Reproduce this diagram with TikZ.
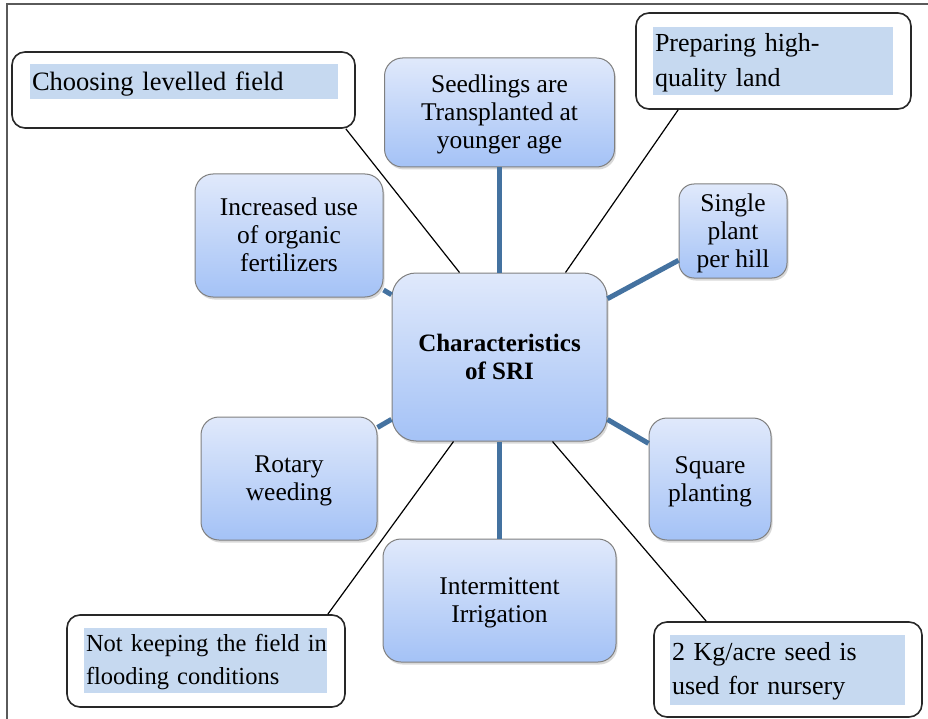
\documentclass[tikz,border=0pt]{standalone}
\usepackage{fontspec}
\setmainfont{Liberation Serif}
\usetikzlibrary{shadows,calc}
\definecolor{topc}{RGB}{224,233,251}
\definecolor{botc}{RGB}{164,194,246}
\definecolor{linkc}{RGB}{68,114,160}
\definecolor{hlc}{RGB}{198,217,240}
\definecolor{edgec}{RGB}{128,128,128}
\definecolor{calloutc}{RGB}{40,40,40}
\definecolor{framec}{RGB}{90,90,90}
\newcommand{\firstfix}[1]{\rule{0pt}{#1}}
\newcommand{\lastfix}{\rule[-5.6pt]{0pt}{5.6pt}}
\begin{document}
\begin{tikzpicture}[x=1pt,y=-1pt,
  bluebox/.style={rectangle, rounded corners=18pt, draw=edgec, line width=1pt,
    top color=topc, bottom color=botc,
    drop shadow={opacity=0.3, shadow xshift=1.5pt, shadow yshift=-2.5pt},
    align=center, inner sep=0pt, font=\fontsize{25.5}{28}\selectfont},
  callout/.style={rectangle, rounded corners=13pt, draw=calloutc, line width=1.6pt, fill=white, inner sep=0pt},
  hl/.style={rectangle, fill=hlc, inner xsep=2pt, inner ysep=0pt, align=left, font=\fontsize{26}{34}\selectfont},
  link/.style={line width=5pt, draw=linkc},
  pointer/.style={line width=1.2pt, draw=black}
]
\useasboundingbox (0,0) rectangle (928,719);
\fill[white] (0,0) rectangle (928,719);
\draw[line width=1.2pt, draw=framec] (7,719) -- (7,4) -- (928,4);

% callouts
\node[callout, minimum width=343pt, minimum height=76pt] (choose) at (183.5,90) {};
\node[hl, text width=304pt, minimum height=35pt, font=\fontsize{26.5}{34}\selectfont] (chooset) at (184,81.5) {\firstfix{24.3pt}Choosing levelled field};
\node[callout, minimum width=275pt, minimum height=96pt] (prep) at (773.5,61) {};
\node[hl, text width=236pt, minimum height=68pt, font=\fontsize{26}{35}\selectfont] (prept) at (773,61) {\mbox{\firstfix{21.5pt}Preparing high-}\\quality land};
\node[callout, minimum width=278pt, minimum height=92pt] (nk) at (206,661) {};
\node[hl, text width=239pt, minimum height=65pt, font=\fontsize{24.5}{33}\selectfont] (nkt) at (205.5,660.5) {\mbox{\firstfix{21pt}Not keeping the field in}\\flooding conditions};
\node[callout, minimum width=268pt, minimum height=95pt] (kg) at (788,669.5) {};
\node[hl, text width=231pt, minimum height=70pt] (kgt) at (787.5,670) {\mbox{\firstfix{20.5pt}2 Kg/acre seed is}\\used for nursery};

% blue boxes
\node[bluebox, minimum width=215pt, minimum height=168pt, rounded corners=24pt,
  font=\bfseries\fontsize{25}{28}\selectfont] (center) at (499.5,357) {Characteristics\\of SRI};
\node[bluebox, minimum width=230pt, minimum height=109pt] (seed) at (499.5,112.5) {\firstfix{22.5pt}Seedlings are\\Transplanted at\\younger age\lastfix};
\node[bluebox, minimum width=188pt, minimum height=123pt] (organic) at (289,235.5) {\firstfix{22.5pt}Increased use\\of organic\\fertilizers\lastfix};
\node[bluebox, minimum width=108pt, minimum height=94pt, rounded corners=15pt] (single) at (733,231) {\firstfix{22.5pt}Single\\plant\\per hill\lastfix};
\node[bluebox, minimum width=176pt, minimum height=123pt] (rotary) at (289,478.5) {\firstfix{22.5pt}Rotary\\weeding\lastfix};
\node[bluebox, minimum width=122pt, minimum height=122pt] (square) at (710,479) {\firstfix{22.5pt}Square\\planting\lastfix};
\node[bluebox, minimum width=233pt, minimum height=123pt] (irrig) at (499.5,600.5) {\firstfix{22.5pt}Intermittent\\Irrigation\lastfix};

% thick links
\draw[link] (center) -- (seed);
\draw[link] (center) -- (organic);
\draw[link] (center) -- (single);
\draw[link] (center) -- (rotary);
\draw[link] (center) -- (square);
\draw[link] (center) -- (irrig);

% pointers
\draw[pointer] ($(choose.south east)+(-10,0)$) -- ($(center.north)+(-40,0)$);
\draw[pointer] ($(prep.south west)+(43,0)$) -- ($(center.north)+(66,0)$);
\draw[pointer] ($(nk.north east)+(-18,0)$) -- ($(center.south)+(-46,0)$);
\draw[pointer] ($(kg.north west)+(53,0)$) -- ($(center.south)+(53,0)$);
\end{tikzpicture}
\end{document}
